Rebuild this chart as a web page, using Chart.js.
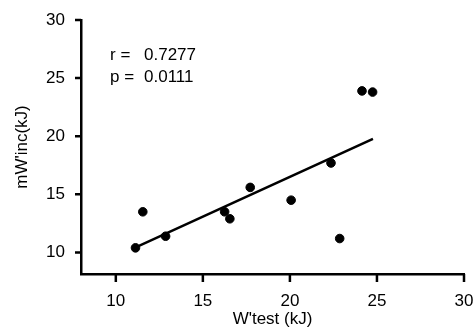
<!DOCTYPE html>
<html>
<head>
<meta charset="utf-8">
<script src="https://cdn.jsdelivr.net/npm/chart.js@4"></script>
<style>
  html, body { margin: 0; padding: 0; background: #fff; }
  #wrap { width: 475px; height: 332px; }
</style>
</head>
<body>
<div id="wrap"><canvas id="grafico"></canvas></div>
<script>
// datos
const wTest = [11.13, 11.55, 12.86, 16.25, 16.55, 17.72, 20.07, 22.36, 22.86, 24.14, 24.75];
const mWinc = [10.4, 13.5, 11.4, 13.5, 12.9, 15.6, 14.5, 17.7, 11.2, 23.9, 23.8];
const ajusteX = [11.17, 24.77];
const ajusteY = [10.46, 19.77];
const ticksX = [10, 15, 20, 25, 30];
const ticksY = [10, 15, 20, 25, 30];
const textoR = ['r =', '0.7277'];
const textoP = ['p =', '0.0111'];

const fuente = "'Liberation Sans', Arial, Helvetica, sans-serif";
Chart.defaults.font.family = fuente;
Chart.defaults.color = '#000';

const ctx = document.getElementById('grafico').getContext('2d');

new Chart(ctx, {
    type: 'scatter',
    data: {
        datasets: [
            {
                data: wTest.map((x, i) => ({ x: x, y: mWinc[i] })),
                backgroundColor: '#000',
                borderColor: '#000',
                pointRadius: 4.3,
                pointHoverRadius: 4.3,
                showLine: false
            },
            {
                data: ajusteX.map((x, i) => ({ x: x, y: ajusteY[i] })),
                borderColor: '#000',
                borderWidth: 2.5,
                pointRadius: 0,
                showLine: true,
                fill: false
            }
        ]
    },
    options: {
        responsive: true,
        maintainAspectRatio: false,
        animation: false,
        layout: { padding: { left: 0, top: 20, right: 11, bottom: 0 } },
        plugins: {
            legend: { display: false },
            tooltip: { enabled: false }
        },
        scales: {
            x: {
                type: 'linear',
                min: 8,
                max: 30,
                afterBuildTicks: s => { s.ticks = ticksX.map(v => ({ value: v })); },
                afterFit: s => { s.height = 58; s.paddingLeft = 0; s.paddingRight = 0; },
                border: { display: true, color: '#000', width: 2.5 },
                grid: { display: false },
                ticks: { font: { size: 17 }, color: '#000', padding: 9 },
                title: { display: true, text: "W'test (kJ)", font: { size: 17 }, color: '#000', padding: { top: 0, bottom: 2 } }
            },
            y: {
                type: 'linear',
                min: 8.15,
                max: 30,
                afterBuildTicks: s => { s.ticks = ticksY.map(v => ({ value: v })); },
                afterFit: s => { s.width = 81; },
                border: { display: true, color: '#000', width: 2.5 },
                grid: { display: false },
                ticks: { font: { size: 17 }, color: '#000', padding: 8 },
                title: { display: true, text: "mW'inc(kJ)", font: { size: 17 }, color: '#000', padding: { top: 12, bottom: 0 } }
            }
        }
    },
    plugins: [
        { // marcas de los ejes y texto con r y p
            id: 'marcasYTexto',
            afterDraw: function (chart) {
                const { ctx, chartArea, scales } = chart;
                ctx.save();
                ctx.strokeStyle = '#000';
                ctx.lineWidth = 2.5;
                ctx.beginPath();
                ticksX.forEach(v => {
                    const px = scales.x.getPixelForValue(v);
                    ctx.moveTo(px, chartArea.bottom);
                    ctx.lineTo(px, chartArea.bottom + 8);
                });
                ticksY.forEach(v => {
                    const py = scales.y.getPixelForValue(v);
                    ctx.moveTo(chartArea.left, py);
                    ctx.lineTo(chartArea.left - 6, py);
                });
                ctx.stroke();

                ctx.font = '17px ' + fuente;
                ctx.fillStyle = '#000';
                ctx.textBaseline = 'middle';
                ctx.textAlign = 'left';
                const x0 = chartArea.left + 29;
                const x1 = chartArea.left + 63;
                ctx.fillText(textoR[0], x0, 55);
                ctx.fillText(textoR[1], x1, 55);
                ctx.fillText(textoP[0], x0, 77);
                ctx.fillText(textoP[1], x1, 77);
                ctx.restore();
            }
        }
    ]
});
</script>
</body>
</html>
